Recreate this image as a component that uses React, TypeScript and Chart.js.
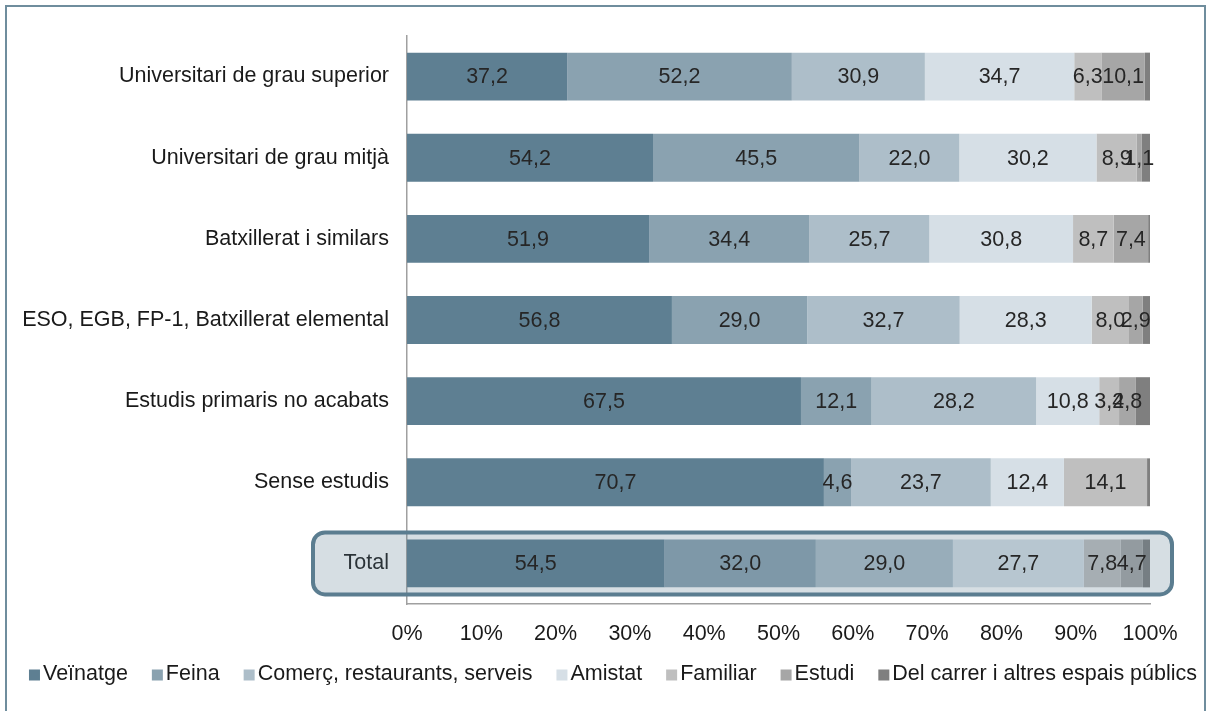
import React, { useEffect, useRef } from "react";
import { Chart, registerables } from "chart.js";

Chart.register(...registerables);

const categories = [
  "Universitari de grau superior",
  "Universitari de grau mitjà",
  "Batxillerat i similars",
  "ESO, EGB, FP-1, Batxillerat elemental",
  "Estudis primaris no acabats",
  "Sense estudis",
  "Total",
];

const seriesNames = [
  "Veïnatge",
  "Feina",
  "Comerç, restaurants, serveis",
  "Amistat",
  "Familiar",
  "Estudi",
  "Del carrer i altres espais públics",
];

const veinatge = [37.2, 54.2, 51.9, 56.8, 67.5, 70.7, 54.5];
const feina = [52.2, 45.5, 34.4, 29.0, 12.1, 4.6, 32.0];
const comerc = [30.9, 22.0, 25.7, 32.7, 28.2, 23.7, 29.0];
const amistat = [34.7, 30.2, 30.8, 28.3, 10.8, 12.4, 27.7];
const familiar = [6.3, 8.9, 8.7, 8.0, 3.4, 14.1, 7.8];
const estudi = [10.1, 1.1, 7.4, 2.9, 2.8, 0, 4.7];
const carrer = [1.2, 1.8, 0.4, 1.6, 2.5, 0.5, 1.5];

const seriesValues = [veinatge, feina, comerc, amistat, familiar, estudi, carrer];
const seriesColors = ["#5e7f92", "#8aa2b0", "#adbec9", "#d6dfe6", "#bfbfbf", "#a6a6a6", "#7f7f7f"];
const seriesLabelled = [true, true, true, true, true, true, false];

const xTickValues = [0, 10, 20, 30, 40, 50, 60, 70, 80, 90, 100];
const highlightCategory = "Total";

const FONT = "'Liberation Sans', Arial, sans-serif";
const FONT_SIZE = 21.5;

const rowSums = categories.map((_, i) =>
  seriesValues.reduce((s, arr) => s + arr[i], 0)
);

const fmt = (v: number) => v.toFixed(1).replace(".", ",");

const overlayPlugin = {
  id: "overlayPlugin",
  afterDatasetsDraw(chart: any) {
    const ctx = chart.ctx;
    const yScale = chart.scales.y;
    const area = chart.chartArea;
    const idx = categories.indexOf(highlightCategory);
    const cy = yScale.getPixelForValue(idx);
    const left = area.left - 94;
    const right = area.right + 22;
    const top = cy - 31;
    const bottom = cy + 31;
    const r = 12;
    ctx.save();
    ctx.beginPath();
    ctx.moveTo(left + r, top);
    ctx.lineTo(right - r, top);
    ctx.arcTo(right, top, right, top + r, r);
    ctx.lineTo(right, bottom - r);
    ctx.arcTo(right, bottom, right - r, bottom, r);
    ctx.lineTo(left + r, bottom);
    ctx.arcTo(left, bottom, left, bottom - r, r);
    ctx.lineTo(left, top + r);
    ctx.arcTo(left, top, left + r, top, r);
    ctx.closePath();
    ctx.fillStyle = "rgba(91,125,145,0.25)";
    ctx.fill();
    ctx.lineWidth = 4;
    ctx.strokeStyle = "#5b7d90";
    ctx.stroke();
    ctx.restore();

    // data labels
    ctx.save();
    ctx.font = `${FONT_SIZE}px ${FONT}`;
    ctx.fillStyle = "#262626";
    ctx.textAlign = "center";
    ctx.textBaseline = "middle";
    chart.data.datasets.forEach((ds: any, di: number) => {
      if (!seriesLabelled[di]) return;
      const meta = chart.getDatasetMeta(di);
      meta.data.forEach((el: any, i: number) => {
        const raw = seriesValues[di][i];
        if (!raw) return;
        const cx = (el.x + el.base) / 2;
        ctx.fillText(fmt(raw), cx, el.y + 1);
      });
    });
    ctx.restore();
  },
  afterDraw(chart: any) {
    const ctx = chart.ctx;
    ctx.save();
    // legend
    ctx.font = `${FONT_SIZE}px ${FONT}`;
    ctx.textBaseline = "middle";
    ctx.textAlign = "left";
    const box = 11;
    const gapBoxText = 3;
    const gapItems = 24;
    const widths = seriesNames.map((n) => ctx.measureText(n).width);
    const total =
      widths.reduce((s, w) => s + w + box + gapBoxText, 0) + gapItems * (seriesNames.length - 1);
    let x = 613 - total / 2;
    const y = 674;
    seriesNames.forEach((n, i) => {
      ctx.fillStyle = seriesColors[i];
      ctx.fillRect(x, y - box / 2 + 1, box, box);
      ctx.fillStyle = "#1a1a1a";
      ctx.fillText(n, x + box + gapBoxText, y);
      x += box + gapBoxText + widths[i] + gapItems;
    });
    // outer frame
    ctx.strokeStyle = "#6f8d9d";
    ctx.lineWidth = 2;
    ctx.strokeRect(6, 6, 1199, 740);
    ctx.restore();
  },
};

export default function App() {
  const ref = useRef<HTMLCanvasElement | null>(null);
  useEffect(() => {
    if (!ref.current) return;
    const chart = new Chart(ref.current, {
      type: "bar",
      data: {
        labels: categories,
        datasets: seriesNames.map((name, di) => ({
          label: name,
          data: seriesValues[di].map((v, i) => (v / rowSums[i]) * 100),
          backgroundColor: seriesColors[di],
          borderWidth: 0,
          barPercentage: 0.59,
          categoryPercentage: 1,
        })),
      },
      options: {
        indexAxis: "y",
        responsive: false,
        animation: false,
        events: [],
        layout: { padding: { left: 0, right: 58, top: 36, bottom: 57 } },
        plugins: {
          legend: { display: false },
          tooltip: { enabled: false },
          title: { display: false },
        },
        scales: {
          x: {
            stacked: true,
            min: 0,
            max: 100,
            afterBuildTicks: (scale: any) => {
              scale.ticks = xTickValues.map((v) => ({ value: v }));
            },
            afterFit: (scale: any) => {
              scale.height = 50;
            },
            grid: { display: false, drawTicks: false },
            border: { display: true, color: "#a0a0a0", width: 1.5 },
            ticks: {
              padding: 17,
              maxRotation: 0,
              autoSkip: false,
              color: "#1a1a1a",
              font: { family: FONT, size: FONT_SIZE },
              callback: (v: any) => `${v}%`,
            },
          },
          y: {
            stacked: true,
            afterFit: (scale: any) => {
              scale.width = 407;
            },
            grid: { display: false, drawTicks: false },
            border: { display: true, color: "#a0a0a0", width: 1.5 },
            ticks: {
              padding: 18,
              autoSkip: false,
              color: "#1a1a1a",
              font: { family: FONT, size: FONT_SIZE },
            },
          },
        },
      },
      plugins: [overlayPlugin],
    } as any);
    return () => chart.destroy();
  }, []);
  return (
    <div style={{ position: "fixed", left: 0, top: 0, width: 1208, height: 711, background: "#fff" }}>
      <canvas ref={ref} width={1208} height={711} style={{ display: "block" }} />
    </div>
  );
}
